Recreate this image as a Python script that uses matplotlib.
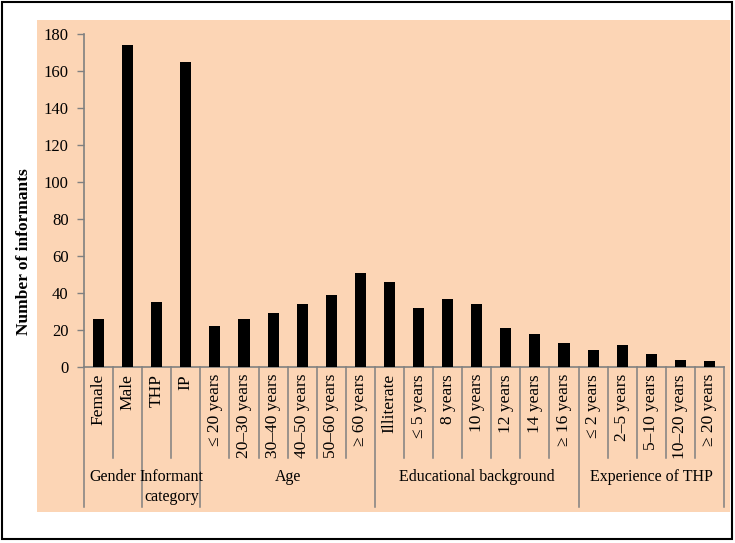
import matplotlib.pyplot as plt
from matplotlib.patches import Rectangle

# categories along the x axis, grouped
categories = ["Female", "Male", "THP", "IP",
              "\u2264 20 years", "20\u201330 years", "30\u201340 years",
              "40\u201350 years", "50\u201360 years", "\u2265 60 years",
              "Illiterate", "\u2264 5 years", "8 years", "10 years",
              "12 years", "14 years", "\u2265 16 years",
              "\u2264 2 years", "2\u20135 years", "5\u201310 years",
              "10\u201320 years", "\u2265 20 years"]
informants = [26, 174, 35, 165,
              22, 26, 29, 34, 39, 51,
              46, 32, 37, 34, 21, 18, 13,
              9, 12, 7, 4, 3]
groups = ["Gender", "Informant\ncategory", "Age",
          "Educational background", "Experience of THP"]
group_sizes = [2, 2, 6, 7, 5]

W, H = 735, 543
plt.rcParams['font.family'] = ['Liberation Serif', 'DejaVu Serif']

fig = plt.figure(figsize=(W / 100, H / 100), dpi=100)

# outer border and peach chart area
fig.patches.append(Rectangle((2 / W, 1 - 539 / H), 730 / W, 537 / H,
                             transform=fig.transFigure, facecolor='white',
                             edgecolor='black', linewidth=1.5, zorder=-2))
peach = '#FCD5B5'
fig.patches.append(Rectangle((37 / W, 1 - 512 / H), 693 / W, 492 / H,
                             transform=fig.transFigure, facecolor=peach,
                             edgecolor='none', zorder=-1))

ax = fig.add_axes([84 / W, 1 - 367 / H, 640 / W, 333 / H])
ax.set_facecolor('none')

x = list(range(len(categories)))
ax.bar(x, informants, width=0.38, color='black', zorder=3)

ax.set_xlim(-0.5, len(categories) - 0.5)
ax.set_ylim(0, 180)
ax.set_yticks(range(0, 181, 20))
ax.tick_params(axis='y', labelsize=12, color='#808080', length=5, width=1, pad=6)
ax.set_xticks(x)
ax.set_xticklabels(categories, rotation=90, fontsize=12.5)
ax.tick_params(axis='x', length=0, pad=5)

for s in ['top', 'right']:
    ax.spines[s].set_visible(False)
for s in ['left', 'bottom']:
    ax.spines[s].set_color('#808080')
    ax.spines[s].set_linewidth(1.2)

fig.text(24 / W, 1 - 252 / H, "Number of informants", rotation=90,
         ha='center', va='center', fontsize=12.5, fontweight='bold')

# separators and group labels below the axis
trans = ax.get_xaxis_transform()
short_y = (367 - 458) / 333
long_y = (367 - 507) / 333
bounds = [0]
for n in group_sizes:
    bounds.append(bounds[-1] + n)
for i in range(len(categories) + 1):
    y_end = long_y if i in bounds else short_y
    ax.plot([i - 0.5, i - 0.5], [0, y_end], color='#808080', lw=1.1,
            transform=trans, clip_on=False)

for g, start, end in zip(groups, bounds[:-1], bounds[1:]):
    ax.text((start + end - 1) / 2, (367 - 469) / 333, g, transform=trans,
            ha='center', va='top', fontsize=11.5, linespacing=1.35)

fig.savefig('out.png', dpi=100)
